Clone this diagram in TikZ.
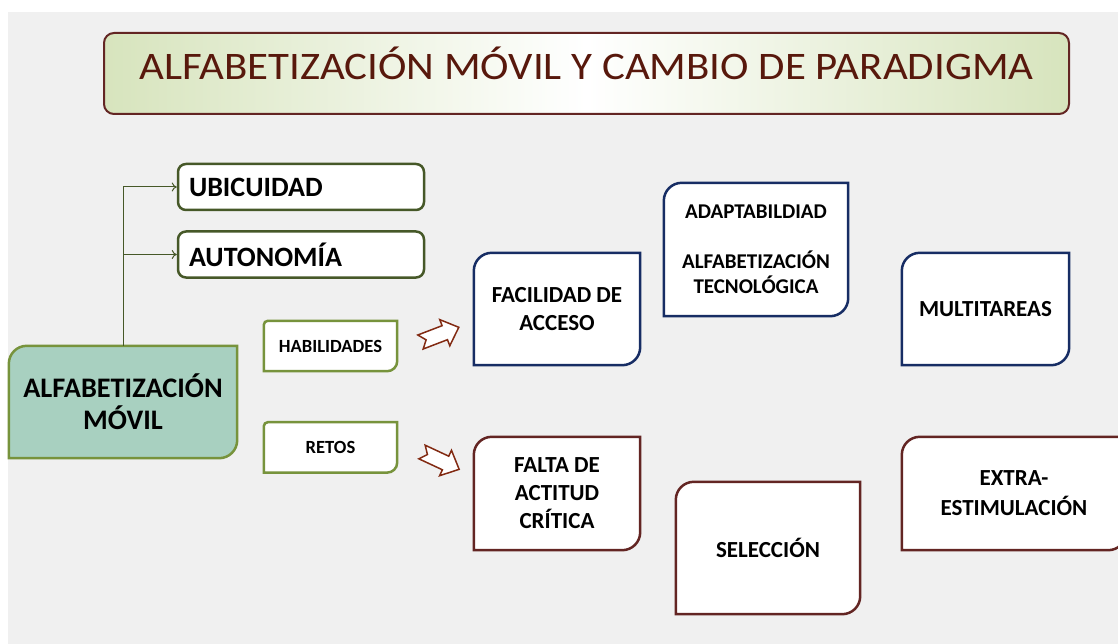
\documentclass[tikz,border=0pt]{standalone}
\usepackage{fontspec}
\setmainfont{Carlito}
\newfontfamily\titlefont{Carlito}[FakeStretch=1.1]
\usetikzlibrary{positioning,calc,arrows.meta}
\definecolor{backgray}{RGB}{240,240,240}
\definecolor{titlegreen}{RGB}{215,228,189}
\definecolor{titlebrown}{RGB}{88,24,12}
\definecolor{framebrown}{RGB}{99,37,35}
\definecolor{arrowbrown}{RGB}{130,42,18}
\definecolor{olivedark}{RGB}{70,88,40}
\definecolor{olive}{RGB}{119,147,60}
\definecolor{mint}{RGB}{168,208,192}
\definecolor{navy}{RGB}{23,45,100}

\pgfdeclarelayer{back}
\pgfdeclarelayer{shapes}
\pgfsetlayers{back,shapes,main}

% outline with round top-left and bottom-right corners
\newcommand{\cornerbox}[4]{%
  \begin{pgfonlayer}{shapes}
  \draw[#4] (#1.north east) -- ([yshift=#3]#1.south east)
    arc[start angle=0,end angle=-90,radius=#3] -- (#1.south west)
    -- ([yshift=-#2]#1.north west)
    arc[start angle=180,end angle=90,radius=#2] -- cycle;
  \end{pgfonlayer}}

\tikzset{
  notched/.pic={
    \draw[arrowbrown, line width=1.5pt, fill=white, line join=miter]
      (0,-7.5) -- (6,0) -- (0,7.5) -- (26,7.5) -- (26,14) -- (41,0)
      -- (26,-14) -- (26,-7.5) -- cycle;
  }
}

\begin{document}
\begin{tikzpicture}[
    x=1pt, y=-1pt,
    every node/.style={inner sep=0pt},
    titlebox/.style={draw=framebrown, line width=2pt, rounded corners=10pt,
      left color=titlegreen, right color=titlegreen, middle color=white,
      minimum width=965pt, minimum height=81pt, text=titlebrown,
      text height=32pt, text depth=19pt,
      font=\titlefont\fontsize{39}{46}\selectfont},
    topbox/.style={draw=olivedark, line width=2.5pt, fill=white, rounded corners=8pt,
      minimum height=46pt, text width=224pt, inner xsep=11pt, align=left,
      font=\fontsize{28}{32}\selectfont\bfseries},
    mainbox/.style={minimum width=228pt, minimum height=112pt, align=center,
      font=\fontsize{28.3}{32}\selectfont\bfseries},
    pillbox/.style={minimum width=133pt, minimum height=50pt, align=center,
      font=\fontsize{18.6}{22}\selectfont\bfseries},
    cardbox/.style={minimum width=166pt, minimum height=112pt, align=center,
      font=\fontsize{23}{28}\selectfont\bfseries},
    link/.style={draw=olivedark, line width=1pt, -{To[length=5pt,width=9pt]}},
    greenline/.style={draw=olive, line width=2.5pt},
    navyline/.style={draw=navy, line width=2.5pt, fill=white},
    brownline/.style={draw=framebrown, line width=2.5pt, fill=white}
]
\useasboundingbox (0,0) rectangle (1118,644);
\begin{pgfonlayer}{back}
  \fill[backgray] (8,12) rectangle (1118,644);
\end{pgfonlayer}

% Title
\node[titlebox] (title) at (586.5,73.5) {ALFABETIZACIÓN MÓVIL Y CAMBIO DE PARADIGMA};

% Left side
\node[topbox] (ubic) at (301,187) {UBICUIDAD};
\node[topbox, below=19pt of ubic] (auton) {AUTONOMÍA};
\node[mainbox] (movil) at (123,402) {ALFABETIZACIÓN\\MÓVIL};
\node[pillbox] (habil) at (330.5,346) {HABILIDADES};
\node[pillbox, below=51pt of habil] (retos) {RETOS};

% Cards
\node[cardbox] (facil) at (557,309) {FACILIDAD DE\\ACCESO};
\node[cardbox, minimum width=184pt, minimum height=133pt,
      font=\fontsize{21}{25}\selectfont\bfseries] (adapt) at (756,249.5)
      {ADAPTABILDIAD\\[25pt]ALFABETIZACIÓN\\TECNOLÓGICA};
\node[cardbox, minimum width=167pt] (multi) at (985.5,309) {MULTITAREAS};
\node[cardbox, minimum height=113pt] (falta) at (557,493.5) {FALTA DE\\ACTITUD\\CRÍTICA};
\node[cardbox, minimum width=184pt, minimum height=132pt] (selec) at (768,548) {SELECCIÓN};
\node[cardbox, minimum width=224pt, minimum height=113pt,
      font=\fontsize{23}{30}\selectfont\bfseries] (extra) at (1014,493.5) {EXTRA-\\ESTIMULACIÓN};

% Outlines
\cornerbox{movil}{18pt}{18pt}{greenline, fill=mint}
\cornerbox{habil}{4pt}{10pt}{greenline, fill=white}
\cornerbox{retos}{4pt}{10pt}{greenline, fill=white}
\cornerbox{facil}{18pt}{18pt}{navyline}
\cornerbox{adapt}{18pt}{18pt}{navyline}
\cornerbox{multi}{18pt}{18pt}{navyline}
\cornerbox{falta}{18pt}{18pt}{brownline}
\cornerbox{selec}{18pt}{18pt}{brownline}
\cornerbox{extra}{18pt}{18pt}{brownline}

% Connectors
\draw[link] (movil.north) |- (ubic.west);
\draw[link] (movil.north) |- (auton.west);
\pic[rotate=21] at (420.5,342) {notched};
\pic[rotate=-25] at (422,452) {notched};

\end{tikzpicture}
\end{document}
